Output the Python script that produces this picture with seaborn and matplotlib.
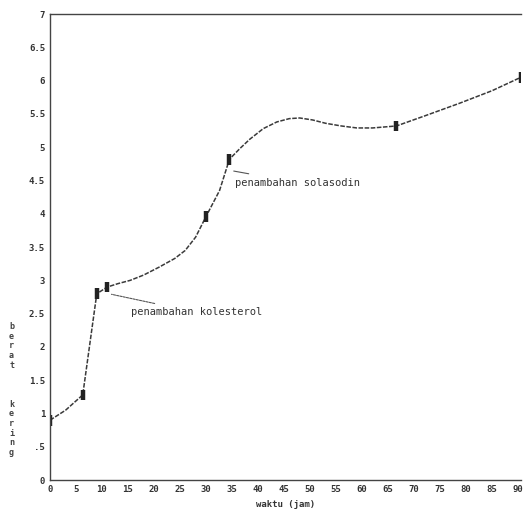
import matplotlib
matplotlib.use("Agg")
import matplotlib.pyplot as plt
import numpy as np
import pandas as pd
import seaborn as sns

# data titik pengukuran
waktu = [0, 6.3, 9, 11, 30, 34.5, 66.6, 90.5]
nilai = [0.9, 1.28, 2.8, 2.9, 3.96, 4.82, 5.32, 6.05]
galat = [0.08, 0.08, 0.08, 0.08, 0.08, 0.08, 0.08, 0.08]

# titik-titik kurva halus yang terlihat di gambar
kurva_t = [0, 3, 6.3, 9, 11, 13, 15.4, 18, 21, 24, 26, 28, 30, 32.6, 34.5, 36.5, 38.4, 41,
           43.6, 46, 48, 50.5, 53, 56, 59, 62, 66.6, 72, 78.7, 85, 90.5]
kurva_y = [0.9, 1.05, 1.28, 2.8, 2.9, 2.95, 3.0, 3.08, 3.2, 3.33, 3.45, 3.65, 3.96, 4.35,
           4.82, 4.98, 5.12, 5.28, 5.38, 5.43, 5.44, 5.41, 5.36, 5.32, 5.29, 5.29, 5.32,
           5.47, 5.66, 5.85, 6.05]

yticks = [0, 0.5, 1, 1.5, 2, 2.5, 3, 3.5, 4, 4.5, 5, 5.5, 6, 6.5, 7]
ytick_labels = ["0", ".5", "1", "1.5", "2", "2.5", "3", "3.5", "4", "4.5", "5", "5.5",
                "6", "6.5", "7"]
xticks = list(range(0, 95, 5))

sns.set_style("white")
plt.rcParams["font.family"] = ["DejaVu Sans Mono"]

fig = plt.figure(figsize=(5.26, 5.23), dpi=100)
ax = fig.add_axes([0.095, 0.082, 0.895, 0.891])

df_kurva = pd.DataFrame({"t": kurva_t, "y": kurva_y})
sns.lineplot(data=df_kurva, x="t", y="y", ax=ax, color="#3a3a3a", lw=1.1,
             linestyle=(0, (3, 1)), sort=False)
ax.errorbar(waktu, nilai, yerr=galat, fmt="none", ecolor="#222222", elinewidth=3.2,
            capsize=0)

ax.annotate("penambahan kolesterol", xy=(11.3, 2.8), xytext=(15.5, 2.52),
            fontsize=7.5, color="#333333", va="center",
            arrowprops=dict(arrowstyle="-", linestyle=(0, (2, 1)), color="#555555", lw=0.8))
ax.annotate("penambahan solasodin", xy=(34.8, 4.65), xytext=(35.5, 4.47),
            fontsize=7.5, color="#333333", va="center",
            arrowprops=dict(arrowstyle="-", color="#555555", lw=0.8))

ax.set_xlim(0, 90.5)
ax.set_ylim(0, 7)
ax.set_xticks(xticks)
ax.set_xticklabels([str(v) for v in xticks], fontsize=6.5, color="#333333",
                   fontweight="bold")
ax.set_yticks(yticks)
ax.set_yticklabels(ytick_labels, fontsize=6.5, color="#333333", fontweight="bold")
ax.tick_params(axis="both", direction="in", length=3, width=0.8, colors="#555555")
ax.tick_params(axis="both", labelcolor="#333333")
ax.set_xlabel("waktu (jam)", fontsize=6.5, color="#333333", labelpad=4,
              fontweight="bold")
ax.set_ylabel("")
fig.text(0.022, 0.255, "\n".join("berat   kering"), fontsize=6, color="#444444",
         ha="center", va="center", linespacing=1.1, fontweight="bold")

for s in ["left", "bottom", "top"]:
    ax.spines[s].set_color("#444444")
    ax.spines[s].set_linewidth(1.0)
ax.spines["right"].set_visible(False)

fig.savefig("out.png", dpi=100)
